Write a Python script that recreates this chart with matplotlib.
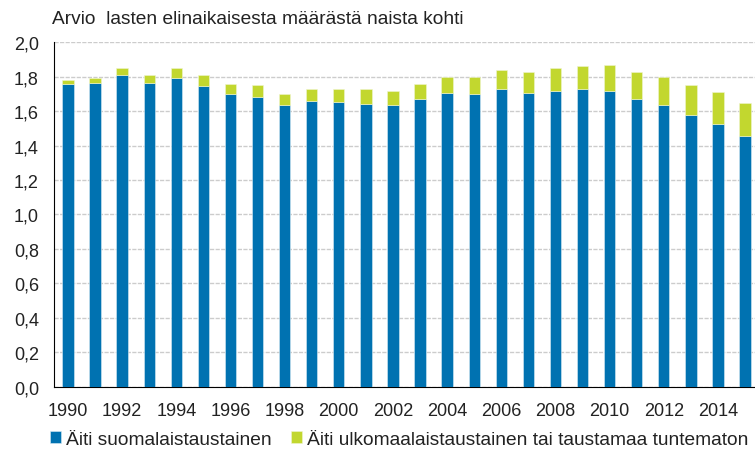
import numpy as np
import matplotlib.pyplot as plt

plt.rcParams['font.family'] = ['Liberation Sans', 'DejaVu Sans']

# Vuodet ja kokonaishedelmällisyysluvut
years = list(range(1990, 2016))
total = [1.78, 1.79, 1.85, 1.81, 1.85, 1.81, 1.76, 1.75, 1.70, 1.73,
         1.73, 1.73, 1.72, 1.76, 1.80, 1.80, 1.84, 1.83, 1.85, 1.86,
         1.87, 1.83, 1.80, 1.75, 1.71, 1.65]
finnish = [1.755, 1.765, 1.81, 1.765, 1.79, 1.745, 1.70, 1.68, 1.635, 1.662,
           1.652, 1.643, 1.635, 1.672, 1.708, 1.70, 1.727, 1.708, 1.718, 1.727,
           1.718, 1.672, 1.635, 1.578, 1.524, 1.458]
foreign = [t - f for t, f in zip(total, finnish)]

yticks = [0.0, 0.2, 0.4, 0.6, 0.8, 1.0, 1.2, 1.4, 1.6, 1.8, 2.0]

blue = '#0072b1'
green = '#c2d72f'

fig = plt.figure(figsize=(7.55, 4.52), dpi=100)
ax = fig.add_axes([0.0709, 0.1423, 0.9291, 0.7619])

x = np.arange(len(years))
ax.bar(x, finnish, width=0.42, color=blue, edgecolor='#d8ecf5', linewidth=0.4,
       label='Äiti suomalaistaustainen', zorder=3)
ax.bar(x, foreign, width=0.42, bottom=finnish, color=green, edgecolor='#f0f5d0',
       linewidth=0.4, label='Äiti ulkomaalaistaustainen tai taustamaa tuntematon',
       zorder=3)

ax.set_xlim(-0.535, 25.37)
ax.set_ylim(0, 2.0)
ax.set_yticks(yticks)
ax.set_yticklabels([f'{v:.1f}'.replace('.', ',') for v in yticks], fontsize=13, color='#222222')
ax.set_xticks(x[::2])
ax.set_xticklabels([str(y) for y in years[::2]], fontsize=13, color='#222222')
ax.tick_params(axis='y', length=0, pad=10.5)
ax.tick_params(axis='x', length=0, pad=11)
ax.yaxis.grid(True, color='#cccccc', linestyle=(0, (3, 1)), linewidth=1, zorder=0)
ax.set_axisbelow(True)

for s in ['top', 'right']:
    ax.spines[s].set_visible(False)
ax.spines['left'].set_color('black')
ax.spines['bottom'].set_color('black')

fig.text(0.069, 0.957, 'Arvio  lasten elinaikaisesta määrästä naista kohti',
         fontsize=13.8, color='#222222', va='center', ha='left')

ax.legend(loc='center left', bbox_to_anchor=(-0.016, -0.152), ncol=2, frameon=False,
          fontsize=13.8, handlelength=0.55, handleheight=0.55, handletextpad=0.3,
          columnspacing=1.0, borderaxespad=0, labelcolor='#222222')

fig.savefig('out.png', dpi=100)
